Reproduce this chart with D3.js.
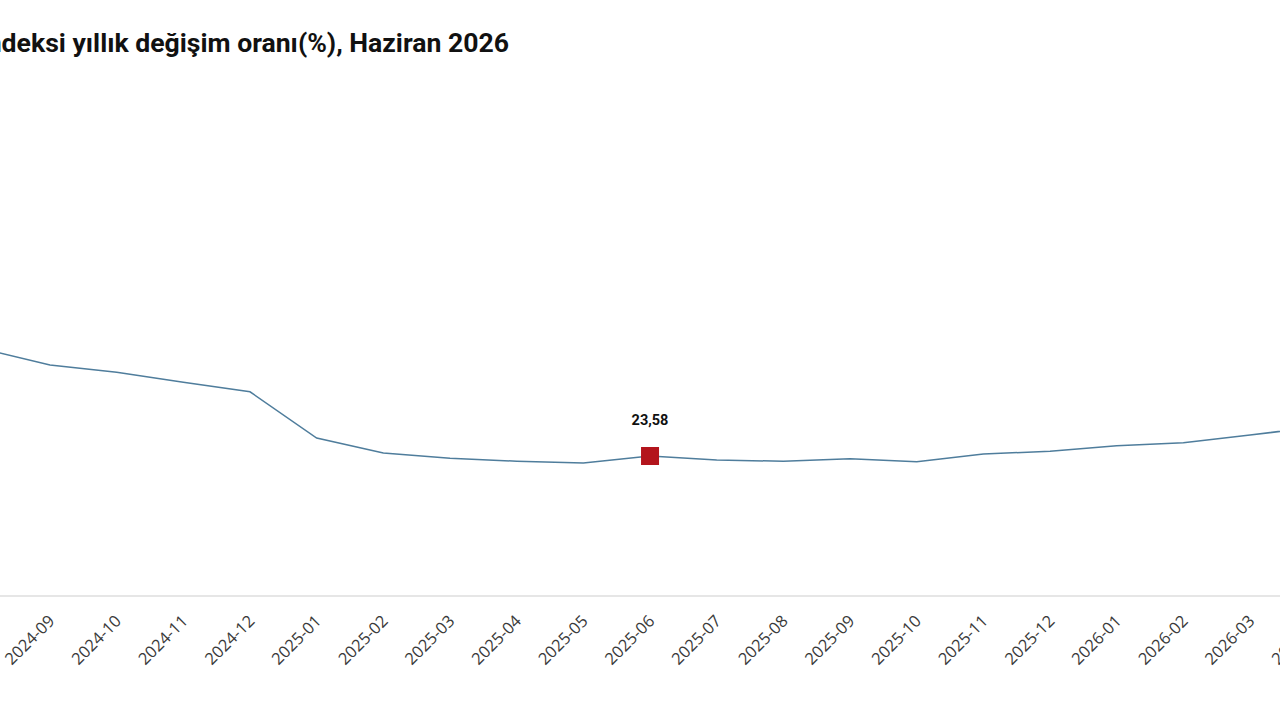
<!DOCTYPE html>
<html>
<head>
<meta charset="utf-8">
<script src="https://cdn.jsdelivr.net/npm/d3@7/dist/d3.min.js"></script>
<style>
  html, body { margin: 0; padding: 0; background: #fff; overflow: hidden; }
  svg { display: block; }
  .title { font-family: Roboto, sans-serif; font-weight: 700; font-size: 26.6px; fill: #111; }
  .ticklabel { font-family: "Open Sans", sans-serif; font-size: 16.5px; fill: #3a3a3a; }
  .pointlabel { font-family: Roboto, sans-serif; font-weight: 700; font-size: 14.5px; fill: #111; }
</style>
</head>
<body>
<div id="chart"></div>
<script>
// months shown in the crop (one extra on each side so the line runs to the edges)
var months = ["2024-08", "2024-09", "2024-10", "2024-11", "2024-12",
    "2025-01", "2025-02", "2025-03", "2025-04", "2025-05", "2025-06",
    "2025-07", "2025-08", "2025-09", "2025-10", "2025-11", "2025-12",
    "2026-01", "2026-02", "2026-03", "2026-04"];

// annual change rate (%)
var rates = [41.6, 38.9, 37.7, 36.0, 34.4,
    26.6, 24.1, 23.2, 22.7, 22.4, 23.58,
    22.9, 22.7, 23.1, 22.6, 23.9, 24.4,
    25.3, 25.8, 27.1, 28.5];

var highlightMonth = "2025-06";
var titleText = "Tüketici fiyat endeksi yıllık değişim oranı(%), Haziran 2026";

var width = 1280, height = 720;
var step = 66.67;
var baseY = 596;

var svg = d3.select("#chart").append("svg")
    .attr("width", width)
    .attr("height", height);

//x: one slot per month, the visible window starts mid-way
var x = d3.scalePoint()
    .domain(months)
    .range([50 - step, 50 + step * (months.length - 2)]);

var y = d3.scaleLinear()
    .domain([0, 50])
    .range([baseY, baseY - 50 * 5.937]);

var data = months.map(function (m, i) {
    return {month: m, value: rates[i]};
});

//title (cut at the left edge like the original)
svg.append("text")
    .attr("class", "title")
    .attr("x", 509)
    .attr("y", 52)
    .attr("text-anchor", "end")
    .text(titleText);

//x axis line
svg.append("line")
    .attr("x1", 0)
    .attr("x2", width)
    .attr("y1", baseY)
    .attr("y2", baseY)
    .attr("stroke", "#e6e6e6")
    .attr("stroke-width", 2);

var xAxis = d3.axisBottom(x).tickSize(0).tickPadding(0);
var gx = svg.append("g")
    .attr("transform", "translate(0," + baseY + ")")
    .call(xAxis);
gx.select(".domain").remove();
gx.selectAll(".tick text")
    .attr("class", "ticklabel")
    .attr("fill", null)
    .style("font-family", null)
    .style("font-size", null)
    .attr("text-anchor", "end")
    .attr("x", 0)
    .attr("y", 0)
    .attr("dy", "0.35em")
    .attr("transform", "translate(1,22) rotate(-45)");

//line
var line = d3.line()
    .x(function (d) { return x(d.month); })
    .y(function (d) { return y(d.value); });

svg.append("path")
    .datum(data)
    .attr("d", line)
    .attr("fill", "none")
    .attr("stroke", "#4f7d9c")
    .attr("stroke-width", 1.5);

//highlighted point
var hl = data.filter(function (d) { return d.month == highlightMonth; });

svg.selectAll("rect.marker").data(hl).enter().append("rect")
    .attr("class", "marker")
    .attr("x", function (d) { return x(d.month) - 9; })
    .attr("y", function (d) { return y(d.value) - 9; })
    .attr("width", 18)
    .attr("height", 18)
    .attr("fill", "#b3141c");

svg.selectAll("text.pointlabel").data(hl).enter().append("text")
    .attr("class", "pointlabel")
    .attr("x", function (d) { return x(d.month); })
    .attr("y", function (d) { return y(d.value) - 31; })
    .attr("text-anchor", "middle")
    .text(function (d) { return d3.format(".2f")(d.value).replace(".", ","); });
</script>
</body>
</html>
